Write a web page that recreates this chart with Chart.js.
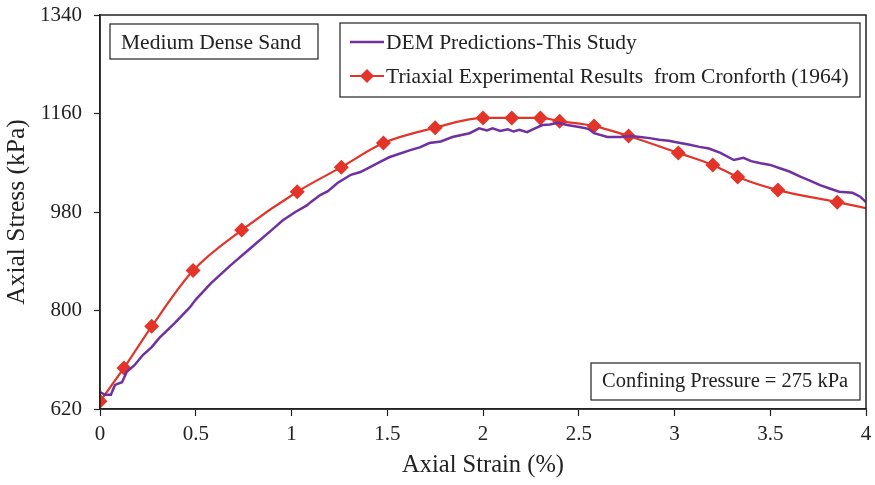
<!DOCTYPE html>
<html><head><meta charset="utf-8">
<script src="https://cdn.jsdelivr.net/npm/chart.js@4.4.1/dist/chart.umd.min.js"></script>
<style>html,body{margin:0;padding:0;background:#fff;overflow:hidden}</style>
</head><body>
<canvas id="c" width="875" height="485"></canvas>
<script>
// ---- data ----
const demStrain = [0, 0.026, 0.057, 0.078, 0.115, 0.14, 0.18, 0.225, 0.27, 0.31, 0.39, 0.47, 0.50, 0.58, 0.68, 0.79, 0.89, 0.955, 1.02, 1.08, 1.10, 1.15, 1.19, 1.24, 1.31, 1.36, 1.41, 1.46, 1.51, 1.56, 1.62, 1.67, 1.72, 1.78, 1.84, 1.93, 1.98, 2.02, 2.05, 2.09, 2.13, 2.16, 2.19, 2.23, 2.26, 2.31, 2.35, 2.39, 2.44, 2.51, 2.55, 2.58, 2.65, 2.72, 2.77, 2.82, 2.87, 2.92, 2.97, 3.03, 3.08, 3.13, 3.18, 3.24, 3.31, 3.36, 3.40, 3.45, 3.50, 3.55, 3.60, 3.66, 3.71, 3.76, 3.81, 3.86, 3.93, 3.97, 4.0];
const demStress = [651, 646, 646, 664, 669, 688, 700, 719, 733, 750, 777, 806, 820, 850, 882, 915, 945, 965, 980, 992, 998, 1011, 1018, 1033, 1048, 1053, 1062, 1071, 1080, 1086, 1093, 1098, 1106, 1109, 1117, 1124, 1133, 1129, 1133, 1128, 1131, 1127, 1130, 1126, 1131, 1139, 1140, 1143, 1139, 1135, 1132, 1124, 1117, 1117, 1119, 1117, 1115, 1112, 1110, 1106, 1103, 1099, 1096, 1088, 1075, 1079, 1073, 1069, 1066, 1060, 1054, 1044, 1037, 1029, 1023, 1017, 1015, 1008, 998];
const expStrain = [0, 0.125, 0.27, 0.486, 0.74, 1.03, 1.26, 1.48, 1.75, 2.0, 2.15, 2.30, 2.40, 2.58, 2.76, 3.02, 3.20, 3.33, 3.54, 3.85, 4.0];
const expStress = [634, 695, 771, 873, 947, 1017, 1062, 1106, 1134, 1152, 1152, 1152, 1146, 1137, 1119, 1088, 1066, 1044, 1020, 998, 987];
const xTickValues = [0, 0.5, 1, 1.5, 2, 2.5, 3, 3.5, 4];
const yTickValues = [620, 800, 980, 1160, 1340];
const seriesLabels = ['DEM Predictions-This Study', 'Triaxial Experimental Results  from Cronforth (1964)'];
const noteLabels = ['Medium Dense Sand', 'Confining Pressure = 275 kPa'];
const axisTitles = ['Axial Strain (%)', 'Axial Stress (kPa)'];

const PURPLE = '#7030a0';
const RED = '#e3342a';
const SERIF = '"Liberation Serif", "Times New Roman", serif';

const boxesPlugin = {
  id: 'boxes',
  afterDraw(chart) {
    const ctx = chart.ctx;
    const a = chart.chartArea;
    ctx.save();
    // frame
    ctx.strokeStyle = '#222';
    ctx.lineWidth = 1.5;
    ctx.strokeRect(a.left, a.top, a.right - a.left, a.bottom - a.top);
    ctx.lineWidth = 1.2;
    ctx.textBaseline = 'middle';
    ctx.textAlign = 'left';
    // Medium Dense Sand
    ctx.fillStyle = '#fff';
    ctx.fillRect(110, 24, 208, 35);
    ctx.strokeRect(110, 24, 208, 35);
    ctx.fillStyle = '#222';
    ctx.font = '21.5px ' + SERIF;
    ctx.fillText(noteLabels[0], 121, 43);
    // Confining pressure
    ctx.fillStyle = '#fff';
    ctx.fillRect(591, 363, 269, 37);
    ctx.strokeRect(591, 363, 269, 37);
    ctx.fillStyle = '#222';
    ctx.font = '20.5px ' + SERIF;
    ctx.fillText(noteLabels[1], 602, 382);
    // legend
    ctx.fillStyle = '#fff';
    ctx.fillRect(340, 23, 520, 74);
    ctx.strokeRect(340, 23, 520, 74);
    ctx.font = '21.5px ' + SERIF;
    const ds = chart.data.datasets;
    const rows = [42, 76];
    ds.forEach((d, i) => {
      const y = rows[i];
      ctx.strokeStyle = d.borderColor;
      ctx.lineWidth = d.borderWidth;
      ctx.beginPath(); ctx.moveTo(350, y); ctx.lineTo(384, y); ctx.stroke();
      if (i === 1) {
        ctx.fillStyle = d.backgroundColor;
        ctx.beginPath();
        ctx.moveTo(367 - 7, y); ctx.lineTo(367, y - 7); ctx.lineTo(367 + 7, y); ctx.lineTo(367, y + 7);
        ctx.closePath(); ctx.fill();
      }
      ctx.fillStyle = '#222';
      ctx.fillText(d.label, 386, y + 1);
    });
    ctx.restore();
  }
};

new Chart(document.getElementById('c'), {
  type: 'line',
  data: {
    datasets: [
      {
        label: seriesLabels[0],
        data: demStrain.map((x, i) => ({x, y: demStress[i]})),
        borderColor: PURPLE, backgroundColor: PURPLE,
        borderWidth: 2.5, pointRadius: 0, tension: 0, fill: false
      },
      {
        label: seriesLabels[1],
        data: expStrain.map((x, i) => ({x, y: expStress[i]})),
        borderColor: RED, backgroundColor: RED,
        borderWidth: 2.2, pointStyle: 'rectRot',
        pointRadius: c => c.dataIndex === expStrain.length - 1 ? 0 : 7.5,
        pointBorderWidth: 0,
        cubicInterpolationMode: 'monotone', fill: false
      }
    ]
  },
  options: {
    responsive: false, devicePixelRatio: 1, animation: false,
    layout: { padding: { left: 0, right: 9, top: 15, bottom: 0 } },
    plugins: { legend: { display: false }, tooltip: { enabled: false } },
    scales: {
      x: {
        type: 'linear', min: 0, max: 4,
        afterBuildTicks: s => { s.ticks = xTickValues.map(v => ({value: v})); },
        afterFit: s => { s.height = 76; s.paddingLeft = 0; s.paddingRight = 0; },
        grid: { drawOnChartArea: false, drawTicks: true, tickLength: 7, tickColor: '#222', tickWidth: 1.2 },
        border: { display: true, color: '#222', width: 1.5 },
        ticks: { color: '#222', font: { family: SERIF, size: 21 }, padding: 6, maxRotation: 0, callback: v => String(v) },
        title: { display: true, text: axisTitles[0], color: '#222', font: { family: SERIF, size: 24.5 }, padding: { top: 0, bottom: 5 } }
      },
      y: {
        type: 'linear', min: 620, max: 1340,
        afterBuildTicks: s => { s.ticks = yTickValues.map(v => ({value: v})); },
        afterFit: s => { s.width = 100; s.paddingTop = 0; s.paddingBottom = 0; },
        grid: { drawOnChartArea: false, drawTicks: true, tickLength: 6, tickColor: '#222', tickWidth: 1.2 },
        border: { display: true, color: '#222', width: 1.5 },
        ticks: { color: '#222', font: { family: SERIF, size: 21 }, padding: 12, callback: v => String(v) },
        title: { display: true, text: axisTitles[1], color: '#222', font: { family: SERIF, size: 25.5 }, padding: { top: 2, bottom: 0 } }
      }
    }
  },
  plugins: [boxesPlugin]
});
</script>
</body></html>
